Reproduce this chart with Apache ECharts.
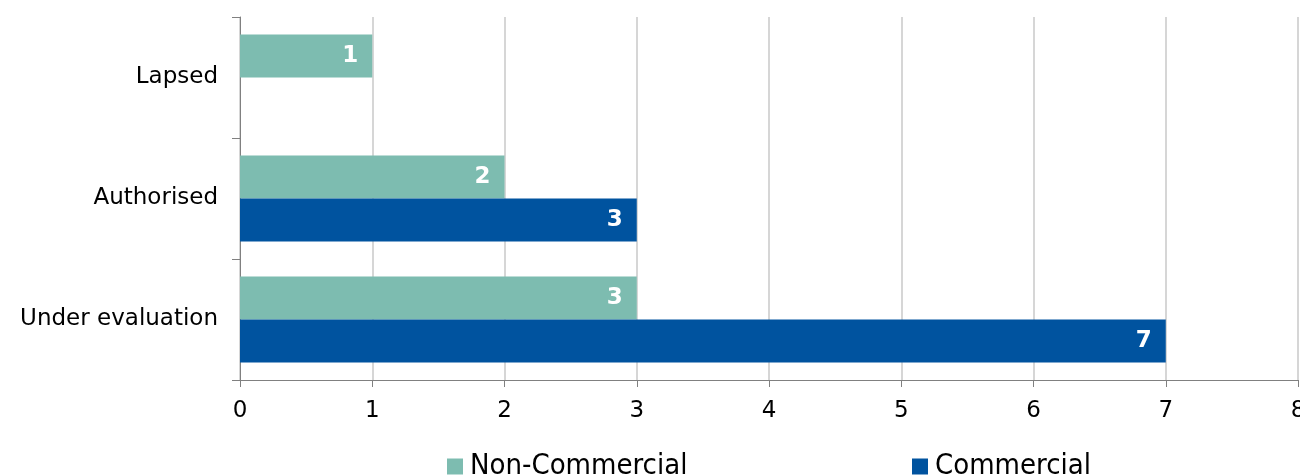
<!DOCTYPE html>
<html>
<head>
<meta charset="utf-8">
<script src="https://cdn.jsdelivr.net/npm/echarts@6/dist/echarts.min.js"></script>
<style>html,body{margin:0;padding:0;background:#fff}#c{width:1300px;height:476px}</style>
</head>
<body>
<div id="c"></div>
<script>
const categories = ['Under evaluation', 'Authorised', 'Lapsed'];
const nonCommercial = [3, 2, 1];
const commercial = [7, 3, 0];
const xTicks = [0, 1, 2, 3, 4, 5, 6, 7, 8];

const chart = echarts.init(document.getElementById('c'));
const font = 'DejaVu Sans, Verdana, sans-serif';
const legendFont = 'DejaVu Sans Condensed, DejaVu Sans, sans-serif';
const lbl = {
  show: true, position: 'insideRight', distance: 14,
  color: '#fff', fontWeight: 'bold', fontSize: 23, fontFamily: font,
  formatter: p => p.value ? String(p.value) : ''
};
const legendText = { fontSize: 29, fontFamily: legendFont, color: '#000', padding: [0, 0, 18, 2] };
chart.setOption({
  animation: false,
  grid: { left: 240, right: 2, top: 17, bottom: 96, outerBoundsMode: 'none', containLabel: false },
  legend: [
    { data: ['Non-Commercial'], icon: 'rect', left: 447, top: 452, itemWidth: 16, itemHeight: 16, itemGap: 0, padding: 0,
      textStyle: legendText },
    { data: ['Commercial'], icon: 'rect', left: 912, top: 452, itemWidth: 16, itemHeight: 16, itemGap: 0, padding: 0,
      textStyle: legendText }
  ],
  xAxis: {
    type: 'value', min: xTicks[0], max: xTicks[xTicks.length - 1], interval: 1,
    axisLine: { show: true, lineStyle: { color: '#808080', width: 1 } },
    axisTick: { show: true, length: 7, lineStyle: { color: '#808080' } },
    axisLabel: { fontSize: 23, fontFamily: font, color: '#000', margin: 20 },
    splitLine: { show: true, lineStyle: { color: '#d6d6d6', width: 2 } }
  },
  yAxis: {
    type: 'category', data: categories,
    axisLine: { show: true, lineStyle: { color: '#808080', width: 1 } },
    axisTick: { show: true, length: 8, lineStyle: { color: '#808080' } },
    axisLabel: { fontSize: 23, fontFamily: font, color: '#000', margin: 22 }
  },
  series: [
    { name: 'Non-Commercial', type: 'bar', data: nonCommercial, barGap: '0%', barCategoryGap: '29%',
      itemStyle: { color: '#7dbcb0' }, label: lbl },
    { name: 'Commercial', type: 'bar', data: commercial, barGap: '0%', barCategoryGap: '29%',
      itemStyle: { color: '#00539f' }, label: lbl }
  ]
});
</script>
</body>
</html>
